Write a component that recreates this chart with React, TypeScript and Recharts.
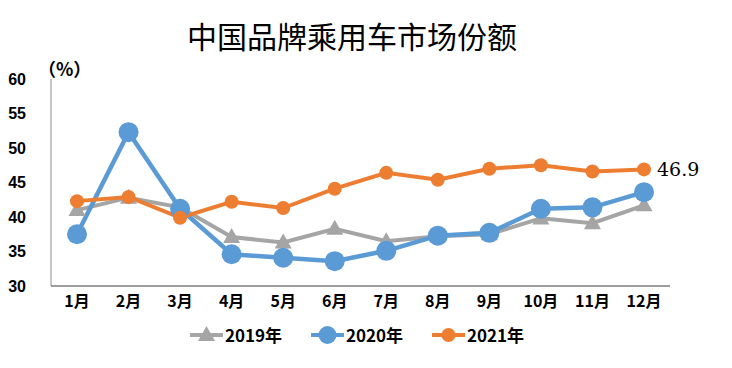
import React from 'react';
import { LineChart, Line, XAxis, YAxis, Legend, LabelList } from 'recharts';

const months = ['1月', '2月', '3月', '4月', '5月', '6月', '7月', '8月', '9月', '10月', '11月', '12月'];
const s2019 = [41.0, 42.8, 41.4, 37.1, 36.3, 38.3, 36.5, 37.2, 37.5, 39.8, 39.1, 41.7];
const s2020 = [37.5, 52.3, 41.2, 34.6, 34.1, 33.6, 35.1, 37.3, 37.7, 41.2, 41.4, 43.6];
const s2021 = [42.3, 42.9, 39.9, 42.2, 41.3, 44.1, 46.4, 45.4, 47.0, 47.5, 46.6, 46.9];
const yTicks = [30, 35, 40, 45, 50, 55, 60];
const seriesNames = ['2019年', '2020年', '2021年'];

const GRAY = '#A5A5A5';
const BLUE = '#5B9BD5';
const ORANGE = '#ED7D31';

const data = months.map((m, i) => ({
  month: m,
  y2019: s2019[i],
  y2020: s2020[i],
  y2021: s2021[i],
}));

const TriangleDot = (props: any) => {
  const { cx, cy, index } = props;
  if (cx == null || cy == null) return null;
  return (
    <polygon
      key={`tri-${index}`}
      points={`${cx},${cy - 9} ${cx - 8.5},${cy + 6} ${cx + 8.5},${cy + 6}`}
      fill={GRAY}
    />
  );
};

const LegendIcon = ({ kind, color }: { kind: string; color: string }) => (
  <svg width={33} height={20} style={{ display: 'block' }}>
    <line x1={0} y1={10} x2={33} y2={10} stroke={color} strokeWidth={4} />
    {kind === 'triangle' && <polygon points="16.5,1 8,16 25,16" fill={color} />}
    {kind === 'big' && <circle cx={16.5} cy={10} r={9} fill={color} />}
    {kind === 'small' && <circle cx={16.5} cy={10} r={7} fill={color} />}
  </svg>
);

const renderLegend = (props: any) => {
  const payload = props.payload || [];
  const kinds: Record<string, string> = { y2019: 'triangle', y2020: 'big', y2021: 'small' };
  return (
    <div style={{ display: 'flex', paddingLeft: 190, height: 20, alignItems: 'center' }}>
      {payload.map((p: any) => (
        <div key={p.value} style={{ display: 'flex', alignItems: 'center', width: 121 }}>
          <LegendIcon kind={kinds[p.dataKey] || 'big'} color={p.color} />
          <span
            style={{
              marginLeft: 2,
              fontSize: 17,
              fontWeight: 'bold',
              color: '#000',
              fontFamily: '"Noto Sans CJK SC", sans-serif',
              lineHeight: '20px',
            }}
          >
            {p.value}
          </span>
        </div>
      ))}
    </div>
  );
};

const EndLabel = (props: any) => {
  const { x, y, index, value } = props;
  if (index !== months.length - 1) return null;
  return (
    <text
      x={x + 13}
      y={y}
      dy="0.36em"
      fontSize={19}
      fontFamily='"DejaVu Serif", serif'
      fill="#000"
    >
      {value}
    </text>
  );
};

export default function App() {
  return (
    <div
      style={{
        position: 'absolute',
        left: 0,
        top: 0,
        width: 732,
        height: 368,
        background: '#fff',
        fontFamily: '"Noto Sans CJK SC", sans-serif',
      }}
    >
      <div
        style={{
          position: 'absolute',
          left: 187,
          top: 19,
          fontSize: 30,
          lineHeight: '32px',
          color: '#000',
          whiteSpace: 'nowrap',
          fontFamily: '"Noto Sans CJK SC", sans-serif',
        }}
      >
        中国品牌乘用车市场份额
      </div>
      <div
        style={{
          position: 'absolute',
          left: 38,
          top: 57,
          fontSize: 18,
          lineHeight: '22px',
          fontWeight: 'bold',
          color: '#000',
          whiteSpace: 'nowrap',
        }}
      >
        （%）
      </div>
      <LineChart
        width={732}
        height={368}
        data={data}
        margin={{ top: 79, right: 62, bottom: 52, left: 0 }}
      >
        <XAxis
          dataKey="month"
          height={30}
          padding={{ left: 26, right: 26 }}
          tickLine={false}
          tickSize={0}
          tickMargin={10}
          interval={0}
          axisLine={{ stroke: '#3a3a3a', strokeWidth: 1 }}
          tick={{ fill: '#000', fontSize: 16, fontWeight: 'bold', fontFamily: '"Noto Sans CJK SC", sans-serif' }}
        />
        <YAxis
          width={51}
          domain={[30, 60]}
          ticks={yTicks}
          interval={0}
          tickLine={false}
          tickSize={0}
          tickMargin={25}
          axisLine={{ stroke: '#8c8c8c', strokeWidth: 1 }}
          tick={{ fill: '#000', fontSize: 16, fontWeight: 'bold', fontFamily: '"Liberation Sans", sans-serif' }}
        />
        <Legend
          verticalAlign="middle"
          align="center"
          layout="horizontal"
          wrapperStyle={{ top: 325, left: 0, width: 732 }}
          content={renderLegend}
        />
        <Line
          dataKey="y2019"
          name={seriesNames[0]}
          stroke={GRAY}
          strokeWidth={4}
          dot={TriangleDot}
          activeDot={false}
          isAnimationActive={false}
        />
        <Line
          dataKey="y2020"
          name={seriesNames[1]}
          stroke={BLUE}
          strokeWidth={4.5}
          dot={{ r: 10, fill: BLUE, stroke: BLUE, strokeWidth: 0 }}
          activeDot={false}
          isAnimationActive={false}
        />
        <Line
          dataKey="y2021"
          name={seriesNames[2]}
          stroke={ORANGE}
          strokeWidth={4}
          dot={{ r: 7, fill: ORANGE, stroke: ORANGE, strokeWidth: 0 }}
          activeDot={false}
          isAnimationActive={false}
        >
          <LabelList dataKey="y2021" content={EndLabel} />
        </Line>
      </LineChart>
    </div>
  );
}
